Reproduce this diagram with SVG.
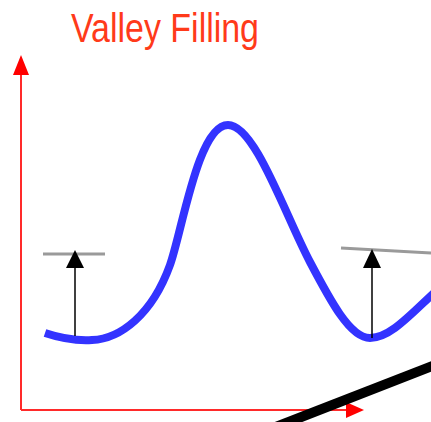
<svg xmlns="http://www.w3.org/2000/svg" width="431" height="422" viewBox="0 0 431 422">
<style>
.axis{stroke:#ff2a2a;stroke-width:2;fill:none}
.axhead{fill:#ff0000}
.curve{stroke:#3333ff;stroke-width:8;fill:none;stroke-linecap:butt}
.level{stroke:#9a9a9a;stroke-width:3;fill:none}
.rise{stroke:#000;stroke-width:1.5;fill:none}
.head{fill:#000}
.title{font-family:"Liberation Sans",Arial,sans-serif;font-size:40px;fill:#ff3a1a}
</style>
<rect width="431" height="422" fill="#fff"/>
<g id="title"><text class="title" x="71" y="42" textLength="188" lengthAdjust="spacingAndGlyphs">Valley Filling</text></g>
<g id="axes">
<line class="axis" x1="21" y1="72" x2="21" y2="410"/>
<polygon class="axhead" points="21,55 13,75 29,75"/>
<line class="axis" x1="21" y1="410" x2="350" y2="410"/>
<polygon class="axhead" points="364,410 346,402 346,418"/>
</g>
<g id="curve"><path class="curve" d="M45,333 C60,338 75,341 92,340 C120,339 152,315 170,265 C182,232 198,125 228,125 C255,125 285,215 310,262 C330,300 350,338 370,338 C390,338 410,315 435,292"/></g>
<g id="connectors">
<g id="fill-left">
<line class="level" x1="43" y1="254" x2="105" y2="254"/>
<line class="rise" x1="75" y1="336" x2="75" y2="266"/>
<polygon class="head" points="75,250 66,268 84,268"/>
</g>
<g id="fill-right">
<line class="level" x1="341" y1="248" x2="431" y2="253"/>
<line class="rise" x1="372" y1="338" x2="372" y2="266"/>
<polygon class="head" points="372,249 363,268 381,268"/>
</g>
<line x1="250" y1="437" x2="440" y2="363" stroke="#000" stroke-width="10"/>
</g>
</svg>
